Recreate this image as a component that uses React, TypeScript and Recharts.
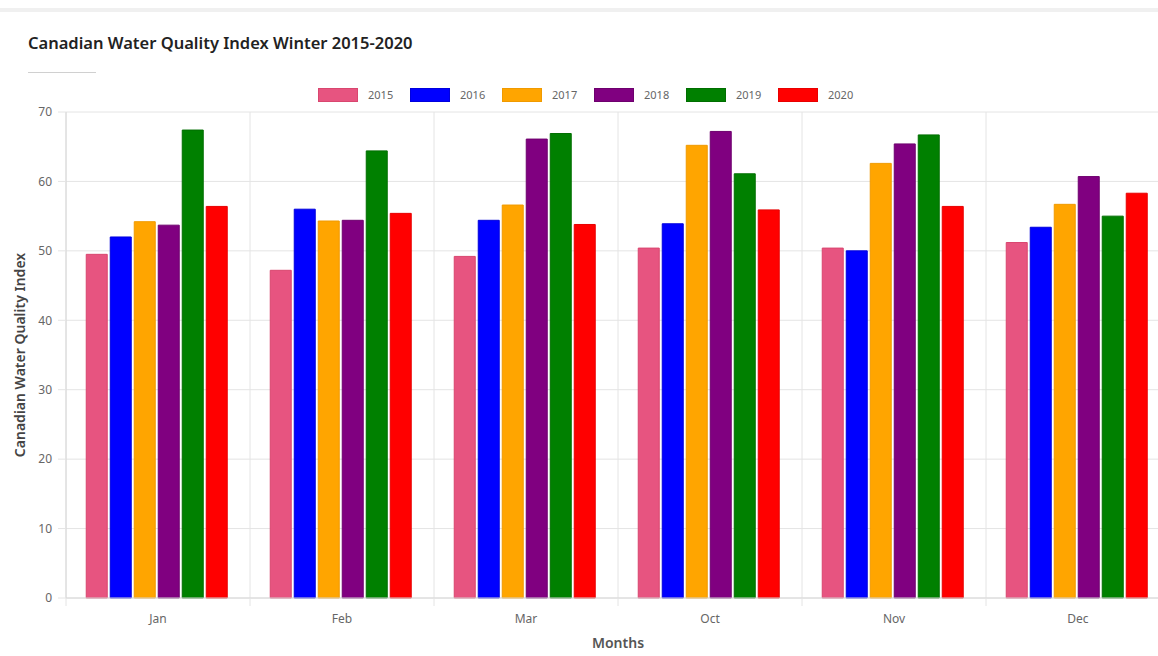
import { Bar, BarChart, CartesianGrid, Legend, XAxis, YAxis } from "recharts";

const MONTHS = ["Jan", "Feb", "Mar", "Oct", "Nov", "Dec"];

const Y2015 = [49.5, 47.2, 49.2, 50.4, 50.4, 51.2];
const Y2016 = [52.0, 56.0, 54.4, 53.9, 50.0, 53.4];
const Y2017 = [54.2, 54.3, 56.6, 65.2, 62.6, 56.7];
const Y2018 = [53.7, 54.4, 66.1, 67.2, 65.4, 60.7];
const Y2019 = [67.4, 64.4, 66.9, 61.1, 66.7, 55.0];
const Y2020 = [56.4, 55.4, 53.8, 55.9, 56.4, 58.3];

const Y_TICKS = [0, 10, 20, 30, 40, 50, 60, 70];

const SERIES = [
  { key: "2015", values: Y2015, fill: "#e75480", stroke: "#d9466f" },
  { key: "2016", values: Y2016, fill: "#0000ff", stroke: "#0000dd" },
  { key: "2017", values: Y2017, fill: "#ffa500", stroke: "#f09a00" },
  { key: "2018", values: Y2018, fill: "#800080", stroke: "#6e006e" },
  { key: "2019", values: Y2019, fill: "#008000", stroke: "#006e00" },
  { key: "2020", values: Y2020, fill: "#ff0000", stroke: "#e80000" },
];

const data = MONTHS.map((month, i) => {
  const row: Record<string, string | number> = { month };
  SERIES.forEach((s) => (row[s.key] = s.values[i]));
  return row;
});

const FONT = "'Noto Sans', sans-serif";
const tickStyle = { fill: "#666", fontSize: 12, fontFamily: FONT };
const gridColor = "#e4e4e4";

// month label plus a small tick at the left edge of each band
function MonthTick(props: any) {
  const { x, y, payload } = props;
  const half = payload?.offset ?? 92;
  return (
    <g>
      <line x1={x - half} x2={x - half} y1={y} y2={y + 8} stroke={gridColor} />
      <text x={x} y={y + 25} textAnchor="middle" {...tickStyle}>
        {payload.value}
      </text>
    </g>
  );
}

function YearLegend() {
  return (
    <div style={{ display: "flex", alignItems: "center", fontFamily: FONT, height: 17 }}>
      {SERIES.map((s) => (
        <div key={s.key} style={{ display: "flex", alignItems: "center", width: 92 }}>
          <span
            style={{
              display: "inline-block",
              width: 38,
              height: 12,
              background: s.fill,
              border: `1px solid ${s.stroke}`,
              marginRight: 10,
            }}
          />
          <span style={{ fontSize: 11, color: "#666" }}>{s.key}</span>
        </div>
      ))}
    </div>
  );
}

export default function App() {
  return (
    <div
      style={{
        position: "fixed",
        left: 0,
        top: 0,
        width: 1158,
        height: 656,
        overflow: "hidden",
        background: "#fff",
        fontFamily: FONT,
      }}
    >
      <div style={{ position: "absolute", left: 0, top: 8, width: 1158, height: 4, background: "#f0f0f0" }} />
      <div
        style={{
          position: "absolute",
          left: 28,
          top: 31,
          fontSize: 16.5,
          fontWeight: 600,
          color: "#222",
          whiteSpace: "nowrap",
        }}
      >
        Canadian Water Quality Index Winter 2015-2020
      </div>
      <div style={{ position: "absolute", left: 28, top: 72, width: 68, height: 1, background: "#d0d0d0" }} />

      <div style={{ position: "absolute", left: 0, top: 0 }}>
        <BarChart
          width={1180}
          height={656}
          data={data}
          margin={{ top: 95, right: 10, bottom: 6, left: 10 }}
          barCategoryGap="11%"
          barGap={3}
        >
          <CartesianGrid
            stroke={gridColor}
            verticalCoordinatesGenerator={({ offset }: any) =>
              MONTHS.map((_, i) => offset.left + (i * offset.width) / MONTHS.length).concat(
                offset.left + offset.width
              )
            }
          />
          <XAxis
            dataKey="month"
            height={52}
            tickSize={0}
            tickMargin={0}
            axisLine={{ stroke: "#d8d8d8" }}
            tick={<MonthTick />}
            label={{
              value: "Months",
              position: "insideBottom",
              offset: 2,
              style: { fill: "#555", fontSize: 14, fontWeight: 600, fontFamily: FONT },
            }}
          />
          <YAxis
            width={56}
            domain={[0, 70]}
            ticks={Y_TICKS}
            tick={tickStyle}
            tickSize={8}
            tickMargin={6}
            tickLine={{ stroke: gridColor }}
            axisLine={{ stroke: "#d8d8d8" }}
            label={{
              value: "Canadian Water Quality Index",
              angle: -90,
              position: "insideLeft",
              offset: 10,
              style: { textAnchor: "middle", fill: "#444", fontSize: 14, fontWeight: 600, fontFamily: FONT },
            }}
          />
          <Legend verticalAlign="top" content={<YearLegend />} wrapperStyle={{ top: 86, left: 318, width: "auto" }} />
          {SERIES.map((s) => (
            <Bar
              key={s.key}
              dataKey={s.key}
              fill={s.fill}
              stroke={s.stroke}
              strokeWidth={1}
              isAnimationActive={false}
            />
          ))}
        </BarChart>
      </div>
    </div>
  );
}
